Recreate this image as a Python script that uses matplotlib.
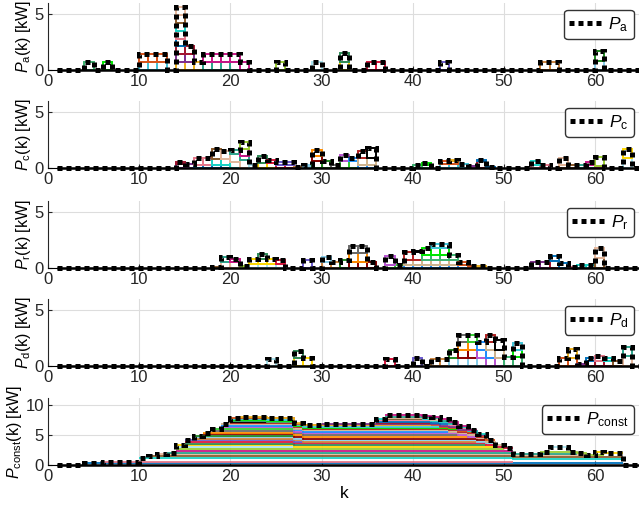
import numpy as np
import matplotlib

matplotlib.use("Agg")
import matplotlib.pyplot as plt

plt.rcParams["font.family"] = ["Liberation Sans", "DejaVu Sans"]
plt.rcParams["mathtext.fontset"] = "custom"
plt.rcParams["mathtext.rm"] = "Liberation Sans"
plt.rcParams["mathtext.it"] = "Liberation Sans:italic"

k = np.arange(1, 65)

# appliance runs per signal: first step, number of steps, power [kW]
a_start = [4, 6, 10, 10, 14, 14, 14, 14, 14, 14, 14, 14, 17, 17, 25, 29, 32, 32, 35, 43, 54, 60, 60]
a_len = [1, 1, 3, 3, 3, 2, 2, 1, 1, 1, 1, 1, 4, 5, 1, 1, 1, 1, 2, 1, 2, 1, 1]
a_kw = [0.75, 0.75, 0.72, 0.73, 0.72, 0.7, 0.7, 0.7, 0.7, 0.7, 0.7, 0.7, 0.72, 0.72,
        0.7, 0.72, 0.75, 0.75, 0.75, 0.7, 0.7, 0.85, 0.85]

c_start = [14, 14, 16, 16, 18, 18, 19, 20, 21, 21, 22, 23, 23, 24, 25, 27, 28, 29, 29, 29, 31, 32,
           32, 33, 34, 34, 35, 40, 41, 43, 43, 44, 46, 47, 47, 53, 53, 56, 56, 58, 59, 60, 63, 63]
c_len = [2, 1, 4, 2, 3, 1, 3, 2, 1, 1, 1, 2, 1, 3, 2, 2, 1, 2, 1, 1, 1, 2,
         1, 3, 2, 1, 1, 2, 1, 3, 2, 1, 1, 1, 2, 2, 1, 2, 1, 2, 2, 1, 1, 1]
c_kw = [0.4, 0.1, 0.25, 0.6, 0.55, 0.9, 0.7, 0.35, 0.65, 0.65, 0.25, 0.45, 0.65, 0.25, 0.3, 0.1,
        0.15, 0.6, 0.5, 0.5, 0.25, 0.6, 0.55, 0.3, 0.6, 0.6, 0.85, 0.3, 0.15, 0.4, 0.2, 0.15,
        0.15, 0.65, 0.1, 0.3, 0.3, 0.25, 0.6, 0.3, 0.2, 0.75, 0.85, 0.85]

r_start = [18, 19, 19, 20, 21, 22, 22, 23, 25, 28, 30, 30, 32, 33, 33, 33, 37, 37, 39, 39, 39,
           40, 41, 41, 42, 45, 47, 53, 55, 55, 57, 58, 60, 60]
r_len = [1, 2, 1, 1, 1, 4, 3, 1, 1, 1, 2, 1, 1, 3, 2, 2, 2, 1, 7, 6, 2,
         1, 4, 3, 2, 2, 1, 2, 1, 2, 1, 2, 1, 1]
r_kw = [0.1, 0.55, 0.4, 0.25, 0.2, 0.35, 0.45, 0.45, 0.35, 0.7, 0.5, 0.45, 0.7, 0.55, 0.75,
        0.7, 0.3, 0.8, 0.3, 0.4, 0.7, 0.15, 0.5, 0.6, 0.35, 0.2, 0.15, 0.55, 0.6, 0.45, 0.1,
        0.3, 0.9, 0.9]

d_start = [24, 27, 27, 37, 40, 42, 44, 44, 45, 45, 45, 46, 47, 47, 48, 48, 49, 50, 51, 51,
           56, 57, 58, 59, 59, 60, 61, 62, 63, 63]
d_len = [1, 2, 1, 1, 1, 2, 4, 1, 2, 2, 1, 1, 3, 2, 2, 1, 1, 2, 1, 1,
         2, 1, 1, 3, 1, 1, 1, 1, 1, 1]
d_kw = [0.6, 0.7, 0.6, 0.65, 0.75, 0.65, 0.7, 0.7, 0.7, 0.7, 0.7, 0.7, 0.7, 0.75, 0.7, 0.65,
        0.9, 0.8, 0.65, 0.6, 0.75, 0.8, 0.2, 0.45, 0.25, 0.4, 0.25, 0.45, 0.85, 0.85]

const_start = [4, 6, 10, 11, 12, 13, 14, 14, 14, 14, 15, 15, 15, 16, 16, 16, 17, 17, 18, 18,
               19, 19, 19, 20, 20, 20, 20, 20, 20, 21, 30, 36, 36, 36, 36, 37, 37, 37, 37,
               54, 55, 60]
const_len = [59, 45, 53, 52, 47, 45, 37, 36, 13, 35, 33, 36, 13, 31, 33, 11, 31, 29, 27, 9,
             28, 25, 31, 28, 4, 7, 25, 23, 29, 21, 18, 6, 8, 10, 12, 4, 6, 8, 10,
             7, 2, 3]
const_kw = [0.35, 0.15, 0.6, 0.4, 0.4, 0.15, 0.35, 0.3, 0.25, 0.3, 0.25, 0.35, 0.3, 0.25, 0.25,
            0.2, 0.3, 0.25, 0.3, 0.25, 0.3, 0.2, 0.3, 0.25, 0.1, 0.15, 0.2, 0.2, 0.2, 0.1,
            0.15, 0.1, 0.2, 0.35, 0.1, 0.1, 0.15, 0.2, 0.2, 0.3, 0.75, 0.6]

labels = ["a", "c", "r", "d", "const"]

palette = ["#3cb371", "#00e600", "#40c4d8", "#d95319", "#edb120", "#7e2f8e", "#a2142f",
           "#0072bd", "#e8788a", "#19d3c5", "#8b5a2b", "#e6b89c", "#2ca58d", "#c71585",
           "#9acd32", "#a8e4ef", "#ffd700", "#2e8b57", "#dc143c", "#6a5acd", "#cd853f",
           "#87ceeb", "#228b22", "#8b0000", "#ff8c00", "#696969", "#32cd32", "#ba55d3",
           "#1e90ff", "#d2b48c", "#b22222", "#000000"]


def loads_matrix(starts, lens, kws):
    m = np.zeros((len(starts), len(k)))
    for i, (s, n, p) in enumerate(zip(starts, lens, kws)):
        m[i, s - 1:s - 1 + n] = p
    return m


def draw_boxes(ax, m, offset):
    # one outlined cell per appliance and step, stacked in list order
    bottom = np.zeros(len(k))
    for i, row in enumerate(m):
        on = row > 0
        ax.bar(k[on], row[on], bottom=bottom[on], width=1.0, align="edge", fill=False,
               edgecolor=palette[(i + offset) % len(palette)], linewidth=1.4, zorder=2)
        bottom += row


def draw_layers(ax, m, starts, lens, offset):
    # cumulative stair line for every appliance over the steps it runs
    cum = np.cumsum(m, axis=0)
    edges = np.append(k, k[-1] + 1)
    for i, (s, n) in enumerate(zip(starts, lens)):
        ax.stairs(cum[i, s - 1:s - 1 + n], edges[s - 1:s + n], baseline=None,
                  color=palette[(i + offset) % len(palette)], linewidth=1.3, zorder=2)


fig = plt.figure(figsize=(6.39, 5.08), dpi=100)
bottoms = [0.8622, 0.6693, 0.4724, 0.2795, 0.0846]
heights = [0.1319, 0.1323, 0.1323, 0.1323, 0.1313]
data = [(a_start, a_len, a_kw), (c_start, c_len, c_kw), (r_start, r_len, r_kw),
        (d_start, d_len, d_kw), (const_start, const_len, const_kw)]
edges = np.append(k, k[-1] + 1)

for j, (lab, (st, ln, kw)) in enumerate(zip(labels, data)):
    ax = fig.add_axes([0.0751, bottoms[j], 0.9277, heights[j]])
    m = loads_matrix(st, ln, kw)
    if lab == "const":
        draw_layers(ax, m, st, ln, 7)
    else:
        draw_boxes(ax, m, 5 * j)
    total = m.sum(axis=0)
    ax.stairs(np.zeros(len(k)), edges, baseline=None, color="black", linewidth=1.8,
              zorder=3, clip_on=False)
    ax.stairs(total, edges, baseline=None, color="black", linewidth=3.6,
              linestyle=(0, (1, 0.8)), zorder=4, clip_on=False,
              label=r"$P_\mathrm{%s}$" % lab)

    ax.set_xlim(0, 65)
    if lab == "const":
        ax.set_ylim(0, 11.1)
        ax.set_yticks([0, 5, 10])
    else:
        ax.set_ylim(0, 6)
        ax.set_yticks([0, 5])
    ax.set_xticks([0, 10, 20, 30, 40, 50, 60])
    ax.grid(True, color="#dddddd", linewidth=0.8)
    ax.set_axisbelow(True)
    for side in ("top", "right"):
        ax.spines[side].set_visible(False)
    ax.spines["left"].set_color("#262626")
    ax.spines["bottom"].set_color("black")
    ax.tick_params(direction="in", length=3, labelsize=12, labelcolor="#262626",
                   color="#262626", pad=3)
    ax.set_ylabel(r"$P_\mathrm{%s}$(k) [kW]" % lab, fontsize=11.5, labelpad=1)
    leg = ax.legend(loc="upper right", fontsize=12.5, handlelength=2.0, handletextpad=0.25,
                    borderpad=0.3, borderaxespad=0.4, fancybox=True, framealpha=1,
                    edgecolor="#333333")
    leg.get_frame().set_linewidth(1.0)
    if lab == "const":
        ax.set_xlabel("k", fontsize=12.5, labelpad=1)

fig.savefig("out.png", dpi=100)
